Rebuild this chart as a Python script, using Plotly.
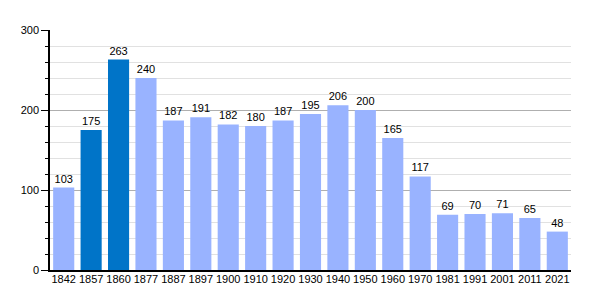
import plotly.graph_objects as go

years = ["1842", "1857", "1860", "1877", "1887", "1897", "1900", "1910", "1920", "1930",
         "1940", "1950", "1960", "1970", "1981", "1991", "2001", "2011", "2021"]
population = [103, 175, 263, 240, 187, 191, 182, 180, 187, 195, 206, 200, 165, 117, 69, 70, 71, 65, 48]
highlight = ["1857", "1860"]

light = "rgb(153,179,255)"
dark = "rgb(0,116,200)"
colors = [dark if y in highlight else light for y in years]

fig = go.Figure(go.Bar(
    x=years, y=population, marker_color=colors, marker_line_width=0,
    text=[str(v) for v in population], textposition="outside",
    textfont=dict(family="Liberation Sans, Arial", size=11, color="black"),
    cliponaxis=False, width=0.77,
))

fig.update_layout(
    width=600, height=300,
    margin=dict(l=50, r=29, t=30, b=30),
    plot_bgcolor="white", paper_bgcolor="white",
    showlegend=False,
    font=dict(family="Liberation Sans, Arial", size=11, color="black"),
    xaxis=dict(type="category", showline=True, linecolor="black", linewidth=1.5,
               ticks="", showgrid=False, tickfont=dict(size=11), ticklabelstandoff=-2),
    yaxis=dict(range=[0, 300], tickvals=[0, 100, 200, 300], showline=True,
               linecolor="black", linewidth=1.5, ticks="outside", ticklen=7,
               tickcolor="black", gridcolor="rgb(175,175,175)", gridwidth=1,
               zeroline=False, tickfont=dict(size=11),
               minor=dict(dtick=20, showgrid=True, gridcolor="rgb(225,225,225)",
                          ticks="outside", ticklen=3, tickcolor="black")),
)

fig.write_html("out.html")
